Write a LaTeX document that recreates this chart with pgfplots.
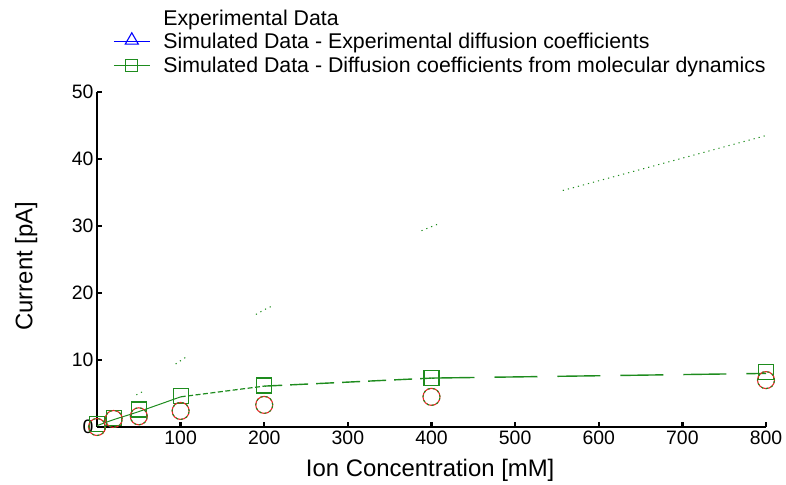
\documentclass[border=0pt]{standalone}
\usepackage{fontspec}
\setmainfont{Liberation Sans}
\usepackage{pgfplots}
\pgfplotsset{compat=1.18}
\definecolor{mgreen}{RGB}{30,140,30}
\definecolor{mred}{RGB}{235,40,40}
\begin{document}
\begin{tikzpicture}
\begin{axis}[
  at={(0,0)}, anchor=south west,
  scale only axis, width=669bp, height=335bp,
  xmin=0, xmax=800, ymin=0, ymax=50,
  clip=false,
  axis x line*=bottom, axis y line*=left,
  axis line style={line width=2.4bp, black},
  xtick={100,200,...,800}, ytick={0,10,...,50},
  tick align=inside, major tick length=5bp,
  tick style={line width=2.4bp, black},
  tick label style={font=\fontsize{19.5}{22}\selectfont},
  /pgf/number format/assume math mode=true,
  xlabel={Ion Concentration [mM]}, ylabel={Current [pA]},
  label style={font=\fontsize{24}{28}\selectfont},
  xlabel style={at={(axis description cs:0.498,-0.128)}, anchor=center},
  ylabel style={at={(axis description cs:-0.106,0.48)}, anchor=center},
  unbounded coords=jump,
  legend image code/.code={\draw[mark repeat=2,mark phase=2,#1] plot coordinates {(0bp,0bp) (18bp,0bp) (36bp,0bp)};},
  legend style={at={(axis description cs:0.024,1.249)}, anchor=north west, draw=none, fill=none,
    font=\fontsize{21.4}{23}\selectfont, row sep=4.6bp, inner sep=0bp, nodes={inner sep=1bp},
    /tikz/every odd column/.append style={column sep=12bp}},
  legend cell align=left,
]
\addlegendimage{empty legend}
\addlegendentry{Experimental Data}
\addlegendimage{blue, line width=1.1bp, mark=triangle, mark size=7.5bp, mark options={solid, yshift=1.5bp}}
\addlegendentry{Simulated Data - Experimental diffusion coefficients}
\addlegendimage{mgreen, line width=1.1bp, mark=square, mark size=6bp, mark options={solid}}
\addlegendentry{Simulated Data - Diffusion coefficients from molecular dynamics}

% sparse dotted series (simulated, experimental diffusion coefficients)
\addplot[forget plot, mgreen, line width=1bp, dash pattern=on 1.2bp off 4bp] coordinates {
  (47,4.8) (55,5.3) (nan,nan)
  (94,9.4) (106,10.4) (nan,nan)
  (190,16.8) (200,17.5) (212,18.2) (nan,nan)
  (388,29.3) (408,30.3) (nan,nan)
  (557,35.3) (800,43.5)
};

% simulated (MD) line
\addplot[forget plot, mgreen, line width=1bp, smooth] coordinates {
  (0,0.2) (20,1.1) (50,2.3) (100,4.5)
};
\addplot[forget plot, mgreen, line width=1.2bp, dash pattern=on 5bp off 2.5bp] coordinates {
  (100,4.5) (200,6.1)
};
\addplot[forget plot, mgreen, line width=1.4bp, dash pattern=on 18bp off 8bp] coordinates {
  (200,6.1) (400,7.3)
};
\addplot[forget plot, mgreen, line width=1.4bp, dash pattern=on 43bp off 20bp] coordinates {
  (400,7.3) (800,8.0)
};
% squares
\addplot[forget plot, only marks, mark=square, mark size=7.5bp, mark options={draw=mgreen, line width=1.2bp}] coordinates {
  (0,0.5) (20,1.4) (50,2.6) (100,4.6) (200,6.2) (400,7.3) (800,8.2)
};

% experimental data circles
\addplot[forget plot, only marks, mark=o, mark size=8.5bp, mark options={draw=mred, line width=1.1bp}] coordinates {
  (0,0.0) (20,1.2) (50,1.6) (100,2.4) (200,3.3) (400,4.5) (800,7.0)
};
\addplot[forget plot, only marks, mark=o, mark size=8.5bp, mark options={draw=mgreen, line width=1.1bp, dash pattern=on 2bp off 3bp}] coordinates {
  (0,0.0) (20,1.2) (50,1.6) (100,2.4) (200,3.3) (400,4.5) (800,7.0)
};
\end{axis}
\pgfresetboundingbox
\path (-97bp,-58bp) rectangle (689bp,427bp);
\end{tikzpicture}
\end{document}
